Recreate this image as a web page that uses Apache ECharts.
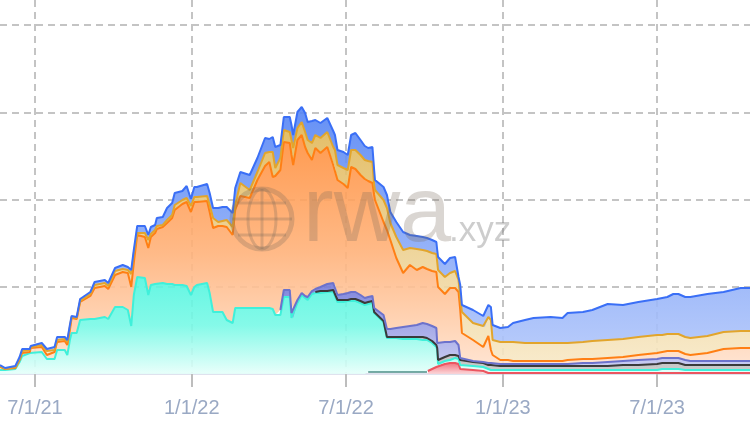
<!DOCTYPE html>
<html>
<head>
<meta charset="utf-8">
<title>rwa.xyz</title>
<style>
html,body{margin:0;padding:0;background:#fff}
#chart{width:750px;height:430px}
</style>
<script src="https://cdn.jsdelivr.net/npm/echarts@6/dist/echarts.min.js"></script>
</head>
<body>
<div id="chart"></div>
<script>
// y labels are cropped out of the source, so the values are in an arbitrary unit
var dates = [
'2021-05-21','2021-05-27','2021-06-08','2021-06-13','2021-06-16','2021-06-25','2021-06-26','2021-07-09','2021-07-15','2021-07-24',
'2021-07-27','2021-08-05','2021-08-08','2021-08-11','2021-08-13','2021-08-19','2021-08-23','2021-09-04','2021-09-09','2021-09-21',
'2021-09-25','2021-10-03','2021-10-12','2021-10-18','2021-10-22','2021-10-25','2021-10-29','2021-11-07','2021-11-11','2021-11-14',
'2021-11-19','2021-11-21','2021-11-28','2021-12-03','2021-12-09','2021-12-12','2021-12-21','2021-12-26','2021-12-31','2022-01-04',
'2022-01-07','2022-01-19','2022-01-22','2022-01-26','2022-02-01','2022-02-06','2022-02-11','2022-02-18','2022-02-21','2022-02-27',
'2022-03-10','2022-03-19','2022-03-28','2022-04-02','2022-04-06','2022-04-09','2022-04-15','2022-04-19','2022-04-26','2022-04-28',
'2022-04-30','2022-05-05','2022-05-10','2022-05-14','2022-05-17','2022-05-22','2022-05-26','2022-06-01','2022-06-09','2022-06-16',
'2022-06-18','2022-06-21','2022-06-28','2022-07-03','2022-07-07','2022-07-12','2022-07-18','2022-07-23','2022-07-27','2022-08-01',
'2022-08-03','2022-08-04','2022-08-14','2022-08-18','2022-08-22','2022-08-29','2022-09-06','2022-09-14','2022-09-22','2022-09-29',
'2022-10-04','2022-10-05','2022-10-10','2022-10-15','2022-10-16','2022-10-17','2022-10-25','2022-10-31','2022-11-06','2022-11-10',
'2022-11-12','2022-11-14','2022-11-27','2022-12-09','2022-12-11','2022-12-15','2022-12-18','2022-12-20','2022-12-29','2023-01-07',
'2023-01-13','2023-01-27','2023-02-06','2023-02-26','2023-03-12','2023-03-18','2023-04-05','2023-04-16','2023-05-04','2023-05-22',
'2023-06-09','2023-07-01','2023-07-07','2023-07-13','2023-07-20','2023-07-26','2023-08-03','2023-08-09','2023-08-29','2023-09-17',
'2023-10-07','2023-10-18'
];
var tickLabels = ['7/1/21','1/1/22','7/1/22','1/1/23','7/1/23'];

var _ = null;
var slate = [
_,_,_,_,_,_,_,_,_,_, _,_,_,_,_,_,_,_,_,_, _,_,_,_,_,_,_,_,_,_, _,_,_,_,_,_,_,_,_,_,
_,_,_,_,_,_,_,_,_,_, _,_,_,_,_,_,_,_,_,_, _,_,_,_,_,_,_,_,_,_,
_,_,_,_,_,_,_,_,2,2, 2,2,2,2,2,2,2,2,2,2, 2,_,_,_,_,_,_,_,_,_,
_,_,_,_,_,_,_,_,_,_, _,_,_,_,_,_,_,_,_,_, _,_,_,_,_,_,_,_,_,_, _,_
];
var red = [
_,_,_,_,_,_,_,_,_,_, _,_,_,_,_,_,_,_,_,_, _,_,_,_,_,_,_,_,_,_, _,_,_,_,_,_,_,_,_,_,
_,_,_,_,_,_,_,_,_,_, _,_,_,_,_,_,_,_,_,_, _,_,_,_,_,_,_,_,_,_,
_,_,_,_,_,_,_,_,_,_, _,_,_,_,_,_,_,_,_,_, _,3,5,7,7,8,10,11,11,10,
5,4,4,3,1,1,1,1,1,1, 1,1,1,1,1,1,1,1,1,1, 1,1,1,1,1,1,1,1,1,1, 1,1
];
var teal = [
4,4,5,12,18,21,22,22,15,15,
24,24,19,34,41,41,54,55,55,57,
55,67,67,64,48,79,97,96,79,89,
90,90,91,90,90,89,89,88,79,87,
89,91,81,62,62,62,54,51,66,66,
66,66,66,66,65,59,59,77,77,56,
56,71,79,76,74,80,81,81,82,82,
82,72,72,73,73,73,71,69,68,69,
59,58,50,34,34,34,33,33,33,32,
32,30,26,20,17,2,3,3,5,5,
4,4,4,4,5,4,3,3,3,3,
3,3,3,3,3,3,3,3,3,3,
3,3,4,4,4,4,3,3,3,3,
3,3
];
var black = [
_,_,_,_,_,_,_,_,_,_, _,_,_,_,_,_,_,_,_,_, _,_,_,_,_,_,_,_,_,_, _,_,_,_,_,_,_,_,_,_,
_,_,_,_,_,_,_,_,_,_, _,_,_,_,_,_,_,_,_,_,
_,_,_,_,_,_,1,2,1,2,
1,2,2,1,2,2,2,2,2,2,
1,1,1,1,1,1,2,2,2,3,
2,2,2,2,2,4,4,5,3,3,
5,5,4,4,4,4,5,5,4,4,
4,4,4,4,4,4,4,4,4,5,
5,6,6,6,6,6,5,5,5,5,
5,5
];
var indigo = [
_,_,_,_,_,_,_,_,_,_, _,_,_,_,_,_,_,_,_,_, _,_,_,_,_,_,_,_,_,_, _,_,_,_,_,_,_,_,_,_,
_,_,_,_,_,_,_,_,_,_,
_,_,_,_,_,_,5,7,7,5,
5,3,2,2,3,3,3,4,7,7,
7,5,6,7,7,7,6,5,5,5,
4,4,6,8,8,9,10,11,12,14,
14,14,15,17,5,17,15,13,14,11,
2,1,1,1,2,2,2,2,2,2,
2,2,2,2,2,2,3,3,4,4,
5,5,5,5,5,5,5,4,4,4,
4,4
];
var orange = [
3,1,1,2,3,1,4,5,4,7,
8,9,10,10,15,14,18,23,31,31,
30,32,35,37,39,32,42,41,47,48,
51,55,56,61,66,75,81,84,83,85,
83,82,81,84,86,86,93,88,98,112,
110,128,142,146,132,139,140,148,147,158,
148,160,158,149,144,131,141,134,137,118,
117,115,110,105,125,123,120,119,116,113,
113,109,93,99,89,70,54,61,55,56,
55,55,55,56,63,56,48,54,53,53,
48,27,21,15,14,27,13,8,4,4,
3,3,3,3,3,4,4,4,4,4,
5,6,6,7,7,7,6,6,8,12,
13,13
];
var gold = [
1,0,1,1,2,2,1,2,4,2,
2,2,3,3,1,1,1,2,3,3,
3,4,3,3,13,10,2,4,8,3,
3,3,2,3,3,5,4,4,6,5,
5,5,7,10,4,5,7,8,5,13,
8,8,13,10,25,8,12,12,11,15,
17,12,13,15,13,17,13,15,15,18,
17,15,16,18,17,19,20,19,20,21,
10,10,22,22,17,21,23,17,21,17,
18,18,18,18,18,17,17,15,17,12,
12,21,17,21,21,19,30,15,18,18,
19,18,18,18,18,17,17,18,18,18,
18,18,17,17,17,17,17,17,17,17,
17,17
];
var blue = [
1,1,1,2,2,1,1,2,2,3,
3,2,2,2,1,1,2,2,3,3,
3,3,4,3,4,3,7,7,5,7,
5,8,8,12,12,12,9,12,7,10,
10,12,12,10,14,14,13,14,17,11,
15,14,15,13,15,21,13,13,15,15,
13,16,15,19,18,22,15,15,14,16,
15,15,16,15,15,17,15,14,13,15,
15,10,13,13,11,15,18,13,13,13,
13,13,13,12,12,13,13,15,14,3,
13,7,13,10,9,12,13,15,14,15,
19,23,25,26,25,30,30,31,36,34,
35,36,37,37,40,40,40,41,42,40,
43,43
];

function band(name, values, line, stops, width) {
	return {
		name: name,
		type: 'line',
		stack: 'total',
		symbol: 'none',
		lineStyle: {color: line, width: width || 2},
		areaStyle: {
			opacity: 0.9,
			color: new echarts.graphic.LinearGradient(0, 0, 0, 1, stops.map(function (c, i) {
				return {offset: i / (stops.length - 1), color: c};
			}))
		},
		data: values.map(function (v, i) { return [dates[i], v]; })
	};
}

var wm = 'rgba(120,105,90,0.27)';
var globe = {
	type: 'group',
	z: 100,
	silent: true,
	children: [
		{type: 'circle', z: 100, shape: {cx: 262, cy: 219, r: 30}, style: {fill: 'none', stroke: wm, lineWidth: 5}},
		{type: 'ellipse', z: 100, shape: {cx: 262, cy: 219, rx: 14, ry: 30}, style: {fill: 'none', stroke: wm, lineWidth: 3}},
		{type: 'line', z: 100, shape: {x1: 262, y1: 189, x2: 262, y2: 249}, style: {stroke: wm, lineWidth: 3}},
		{type: 'line', z: 100, shape: {x1: 232, y1: 219, x2: 292, y2: 219}, style: {stroke: wm, lineWidth: 3}},
		{type: 'line', z: 100, shape: {x1: 238, y1: 203, x2: 286, y2: 203}, style: {stroke: wm, lineWidth: 3}},
		{type: 'line', z: 100, shape: {x1: 238, y1: 235, x2: 286, y2: 235}, style: {stroke: wm, lineWidth: 3}}
	]
};

var myChart = echarts.init(document.getElementById('chart'));
var option = {
	animation: false,
	backgroundColor: '#fff',
	grid: {left: 0, right: 0, top: 0, bottom: 56},
	xAxis: {
		type: 'time',
		min: '2021-05-21',
		max: '2023-10-18',
		splitNumber: 4,
		axisLine: {lineStyle: {color: '#dfe2ee', width: 2}},
		axisTick: {
			length: 13,
			lineStyle: {color: '#bdbdbd', width: 2}
		},
		axisLabel: {
			color: '#9aa9c4',
			fontFamily: 'Liberation Sans',
			fontSize: 20,
			margin: 24,
			hideOverlap: false,
			showMinLabel: false,
			showMaxLabel: false,
			formatter: function (v) {
				var d = new Date(v);
				var s = (d.getMonth() + 1) + '/' + d.getDate() + '/' + String(d.getFullYear()).slice(2);
				return tickLabels.indexOf(s) >= 0 ? s : '';
			}
		},
		splitLine: {show: true, showMinLine: false, showMaxLine: false, lineStyle: {color: '#c4c4c4', width: 2, type: [7, 5]}}
	},
	yAxis: {
		type: 'value',
		min: 0,
		max: 374,
		interval: 87.25,
		axisLabel: {show: false},
		axisLine: {show: false},
		axisTick: {show: false},
		splitLine: {show: true, showMaxLine: false, lineStyle: {color: '#c4c4c4', width: 2, type: [7, 5]}}
	},
	series: [
		band('slate', slate, '#4c8f88', ['rgba(0,0,0,0)', 'rgba(0,0,0,0)'], 1.5),
		band('red', red, '#ec5560', ['#f06570', '#fbd3d6']),
		band('teal', teal, '#3ff0da', ['#52f5df', '#78f9e6', '#e6fffa']),
		band('black', black, '#3a3a3a', ['#a0a0a0', '#c4c4c4']),
		band('indigo', indigo, '#6c72cc', ['#7077d8', '#c2c6f0']),
		band('orange', orange, '#ff7f14', ['#ff8f3c', '#ffb27a', '#ffe3d0']),
		band('gold', gold, '#e2a52c', ['#e0b655', '#f8e9c8']),
		band('blue', blue, '#3a6ff6', ['#5484f4', '#b6caFb'])
	],
	graphic: [
		globe,
		{type: 'text', z: 100, silent: true, x: 303, y: 170, style: {text: 'rwa', fill: wm, font: '92px "Liberation Sans"'}},
		{type: 'text', z: 100, silent: true, x: 449, y: 214, style: {text: '.xyz', fill: 'rgba(130,130,130,0.4)', font: '35px "Liberation Sans"'}}
	]
};
option && myChart.setOption(option);
</script>
</body>
</html>
